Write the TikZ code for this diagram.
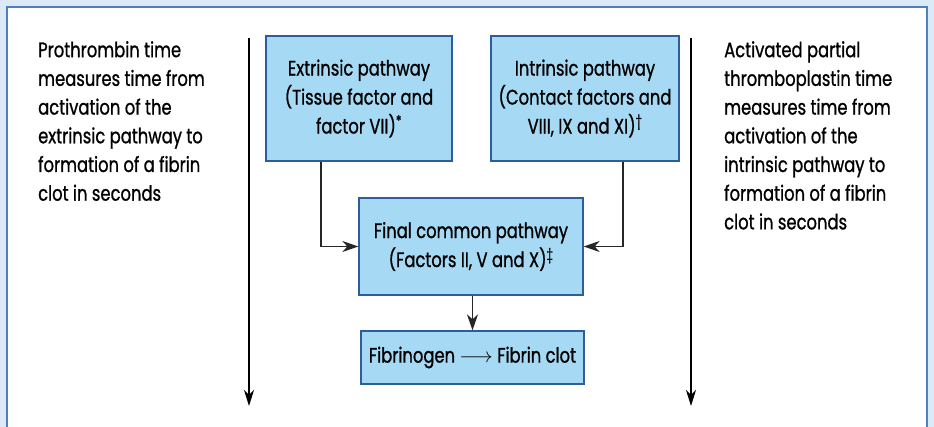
\documentclass[tikz,border=0pt]{standalone}
\usepackage{fontspec}
\setmainfont{Poppins}[FakeStretch=0.78, FakeBold=0.9]
\usetikzlibrary{arrows.meta}
\definecolor{bgblue}{HTML}{DCE9F6}
\definecolor{frameblue}{HTML}{4F7FBF}
\definecolor{boxfill}{HTML}{A6D9F3}
\definecolor{boxline}{HTML}{2E5E9A}
\tikzset{
  pbox/.style={draw=boxline, line width=1.3pt, fill=boxfill, align=center, inner sep=0pt,
    font=\fontsize{21}{29}\selectfont},
  sidetext/.style={align=left, anchor=north west, inner sep=0pt, font=\fontsize{21}{28.7}\selectfont},
  conn/.style={draw=black!85, line width=1.4pt, -{Stealth[length=16pt,width=11pt,inset=5pt]}},
  timeline/.style={draw=black, line width=1.4pt, -{Stealth[length=16pt,width=10pt,inset=5pt]}}
}
\begin{document}
\begin{tikzpicture}[x=1pt,y=-1pt]
\useasboundingbox (0,0) rectangle (934,427);
\fill[bgblue] (0,0) rectangle (934,427);
\filldraw[fill=white, draw=frameblue, line width=2pt] (7,7) -- (927,7) -- (927,440) -- (7,440) -- cycle;

\node[pbox, minimum width=186pt, minimum height=125pt] (ext) at (359,98.5)
  {Extrinsic pathway\\(Tissue factor and\\factor VII)\textsuperscript{*}};
\node[pbox, minimum width=188pt, minimum height=125pt] (int) at (585,98.5)
  {Intrinsic pathway\\(Contact factors and\\VIII, IX and XI)\textsuperscript{\textdagger}};
\node[pbox, minimum width=224pt, minimum height=97pt] (fin) at (471,246.5)
  {Final common pathway\\(Factors II, V and X)\textsuperscript{\textdaggerdbl}};
\node[pbox, minimum width=223pt, minimum height=53pt] (fib) at (472.5,357.5)
  {Fibrinogen \ensuremath{\longrightarrow} Fibrin clot};

\node[sidetext] (pt) at (38,41)
  {Prothrombin time\\measures time from\\activation of the\\extrinsic pathway to\\formation of a fibrin\\clot in seconds};
\node[sidetext] (aptt) at (724,41)
  {Activated partial\\thromboplastin time\\measures time from\\activation of the\\intrinsic pathway to\\formation of a fibrin\\clot in seconds};

\coordinate (c1) at (321,0);
\coordinate (c2) at (623,0);
\draw[conn] (ext.south -| c1) |- (fin.west);
\draw[conn] (int.south -| c2) |- (fin.east);
\draw[conn] (fin.south -| fib.north) -- (fib.north);

\coordinate (l1) at (249,38);
\coordinate (l2) at (249,406);
\coordinate (r1) at (691,38);
\coordinate (r2) at (691,406);
\draw[timeline] (l1) -- (l2);
\draw[timeline] (r1) -- (r2);
\end{tikzpicture}
\end{document}
